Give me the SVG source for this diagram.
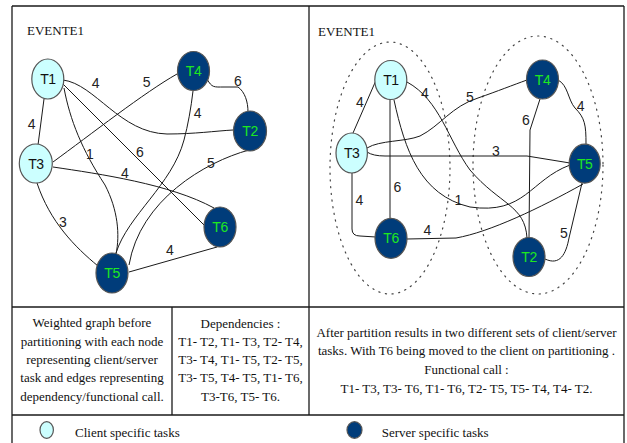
<svg xmlns="http://www.w3.org/2000/svg" width="627" height="443" viewBox="0 0 627 443">
  <style>
    .frame { fill: none; stroke: #1a1a1a; stroke-width: 1.3; }
    .edge { fill: none; stroke: #1a1a1a; stroke-width: 1; }
    .group { fill: none; stroke: #444; stroke-width: 1.2; stroke-dasharray: 1.2 5.5; stroke-linecap: round; }
    .client { fill: #ccffff; stroke: #555; stroke-width: 1.2; }
    .server { fill: #003c7a; stroke: #555; stroke-width: 1.2; }
    .nlabel { font-family: "Liberation Sans", Arial, sans-serif; font-size: 14px; text-anchor: middle; letter-spacing: -0.5px; }
    .ctext { fill: #111; }
    .stext { fill: #1ee81e; }
    .weight { font-family: "Liberation Sans", Arial, sans-serif; font-size: 14px; fill: #222; text-anchor: middle; }
    .cap { font-family: "Liberation Serif", "Times New Roman", serif; font-size: 13px; fill: #111; }
    .mid { text-anchor: middle; }
  </style>

  <!-- outer table frame -->
  <g id="table">
    <rect x="0" y="0" width="627" height="443" fill="#ffffff"/>
    <line class="frame" x1="12" y1="6" x2="624" y2="6"/>
    <line class="frame" x1="12" y1="6" x2="12" y2="443"/>
    <line class="frame" x1="624" y1="6" x2="624" y2="443"/>
    <line class="frame" x1="309" y1="6" x2="309" y2="415"/>
    <line class="frame" x1="12" y1="307" x2="624" y2="307"/>
    <line class="frame" x1="172" y1="307" x2="172" y2="415"/>
    <line class="frame" x1="12" y1="415" x2="624" y2="415"/>
  </g>

  <g id="titles">
    <text class="cap" x="27" y="34.5">EVENTE1</text>
    <text class="cap" x="318" y="36">EVENTE1</text>
  </g>

  <!-- partition boundaries (right panel) -->
  <g id="partitions">
    <ellipse class="group" cx="390" cy="168" rx="60" ry="126"/>
    <ellipse class="group" cx="538" cy="165" rx="65" ry="129"/>
  </g>

  <!-- connectors -->
  <g id="connectors">
    <!-- left graph -->
    <path class="edge" d="M63,80 C95,84 120,133 167,134 C195,134 215,131 233,130"/>
    <path class="edge" d="M44,99 L38,145"/>
    <path class="edge" d="M177,74 C145,92 90,135 53,162"/>
    <path class="edge" d="M207,79 C212,88 214,87 224,87 L238,87 C245,92 248,102 248,112"/>
    <path class="edge" d="M193,91 C191,108 188,125 184,140 C172,185 128,215 116,253"/>
    <path class="edge" d="M64,88 C70,120 82,150 105,185 C118,210 120,235 116,254"/>
    <path class="edge" d="M63,84 L205,226"/>
    <path class="edge" d="M53,167 C100,174 170,184 214,208"/>
    <path class="edge" d="M249,150 C205,162 140,200 129,265"/>
    <path class="edge" d="M37,183 C50,222 75,247 98,266"/>
    <path class="edge" d="M129,272 L217,247"/>
    <!-- right graph -->
    <path class="edge" d="M377,78 L353,133"/>
    <path class="edge" d="M390,99 L390,218"/>
    <path class="edge" d="M352,173 L352,229 Q352,236 360,236 L376,237"/>
    <path class="edge" d="M407,239 L456,238 C490,232 540,208 583,184"/>
    <path class="edge" d="M367,148 C380,140 405,142 420,136 C440,126 452,106 478,98 C498,91 513,85 527,80"/>
    <path class="edge" d="M367,152 Q373,156 385,156 L527,156 L570,163"/>
    <path class="edge" d="M394,100 C405,150 420,195 470,207 C525,215 530,180 570,165"/>
    <path class="edge" d="M407,82 C440,100 448,140 470,170 C500,205 525,205 527,238"/>
    <path class="edge" d="M540,99 L530,130 L529,238"/>
    <path class="edge" d="M558,80 C568,85 568,100 575,108 C585,118 586,125 586,144"/>
    <path class="edge" d="M545,259 C560,266 566,254 569,238 L582,183"/>
  </g>

  <!-- edge weights -->
  <g id="weights">
    <text class="weight" x="95.7" y="88">4</text>
    <text class="weight" x="146.7" y="87">5</text>
    <text class="weight" x="238" y="86">6</text>
    <text class="weight" x="31.7" y="129">4</text>
    <text class="weight" x="197.7" y="118">4</text>
    <text class="weight" x="90" y="159">1</text>
    <text class="weight" x="140" y="157">6</text>
    <text class="weight" x="211" y="168">5</text>
    <text class="weight" x="125" y="178">4</text>
    <text class="weight" x="63" y="227">3</text>
    <text class="weight" x="170" y="255">4</text>

    <text class="weight" x="360" y="107">4</text>
    <text class="weight" x="425" y="98">4</text>
    <text class="weight" x="470" y="102">5</text>
    <text class="weight" x="526" y="125">6</text>
    <text class="weight" x="580.7" y="111">4</text>
    <text class="weight" x="496" y="155.7">3</text>
    <text class="weight" x="397.3" y="192">6</text>
    <text class="weight" x="359.3" y="205">4</text>
    <text class="weight" x="458.3" y="205">1</text>
    <text class="weight" x="427.3" y="235">4</text>
    <text class="weight" x="564" y="238">5</text>
  </g>

  <!-- left graph nodes -->
  <g id="L-T1"><ellipse class="client" cx="47.8" cy="79" rx="16" ry="20"/><text class="nlabel ctext" x="47.8" y="84">T1</text></g>
  <g id="L-T3"><ellipse class="client" cx="35.8" cy="163.5" rx="16.5" ry="19.5"/><text class="nlabel ctext" x="35.8" y="168.5">T3</text></g>
  <g id="L-T4"><ellipse class="server" cx="193.5" cy="71" rx="16" ry="19.5"/><text class="nlabel stext" x="193.5" y="76">T4</text></g>
  <g id="L-T2"><ellipse class="server" cx="250" cy="131" rx="16.5" ry="20"/><text class="nlabel stext" x="250" y="136">T2</text></g>
  <g id="L-T6"><ellipse class="server" cx="220" cy="227" rx="16" ry="20"/><text class="nlabel stext" x="220" y="232">T6</text></g>
  <g id="L-T5"><ellipse class="server" cx="112" cy="273" rx="16" ry="20"/><text class="nlabel stext" x="112" y="278">T5</text></g>

  <!-- right graph nodes -->
  <g id="R-T1"><ellipse class="client" cx="390.8" cy="80" rx="16" ry="19.5"/><text class="nlabel ctext" x="390.8" y="85">T1</text></g>
  <g id="R-T3"><ellipse class="client" cx="351.7" cy="153" rx="15.7" ry="20"/><text class="nlabel ctext" x="351.7" y="158">T3</text></g>
  <g id="R-T4"><ellipse class="server" cx="542.5" cy="79.5" rx="16" ry="19.5"/><text class="nlabel stext" x="542.5" y="84.5">T4</text></g>
  <g id="R-T5"><ellipse class="server" cx="584.7" cy="163.7" rx="15.5" ry="19.5"/><text class="nlabel stext" x="584.7" y="168.7">T5</text></g>
  <g id="R-T6"><ellipse class="server" cx="391" cy="238.3" rx="16" ry="20"/><text class="nlabel stext" x="391" y="243.3">T6</text></g>
  <g id="R-T2"><ellipse class="server" cx="529" cy="257" rx="16" ry="19.5"/><text class="nlabel stext" x="529" y="262">T2</text></g>

  <!-- captions -->
  <g id="caption-left">
    <text class="cap mid" x="92" y="327">Weighted graph before</text>
    <text class="cap mid" x="92" y="345.5">partitioning with each node</text>
    <text class="cap mid" x="92" y="364">representing client/server</text>
    <text class="cap mid" x="92" y="382">task and edges representing</text>
    <text class="cap mid" x="92" y="400.5">dependency/functional call.</text>
  </g>
  <g id="caption-deps">
    <text class="cap mid" x="240.5" y="327.5">Dependencies :</text>
    <text class="cap mid" x="240.5" y="345.5">T1- T2, T1- T3, T2- T4,</text>
    <text class="cap mid" x="240.5" y="364">T3- T4, T1- T5, T2- T5,</text>
    <text class="cap mid" x="240.5" y="382">T3- T5, T4- T5, T1- T6,</text>
    <text class="cap mid" x="240.5" y="400.5">T3-T6, T5- T6.</text>
  </g>
  <g id="caption-right">
    <text class="cap mid" x="466.5" y="336.5">After partition results in two different sets of client/server</text>
    <text class="cap mid" x="466.5" y="355">tasks. With T6 being moved to the client on partitioning .</text>
    <text class="cap mid" x="466.5" y="374">Functional call :</text>
    <text class="cap mid" x="466.5" y="392.5">T1- T3, T3- T6, T1- T6, T2- T5, T5- T4, T4- T2.</text>
  </g>

  <!-- legend -->
  <g id="legend-client">
    <ellipse class="client" cx="46.7" cy="430" rx="6.7" ry="8.3"/>
    <text class="cap" x="75" y="436.5">Client specific tasks</text>
  </g>
  <g id="legend-server">
    <ellipse class="server" cx="354.5" cy="430" rx="7.5" ry="8.3"/>
    <text class="cap" x="381.7" y="436.5">Server specific tasks</text>
  </g>
</svg>
